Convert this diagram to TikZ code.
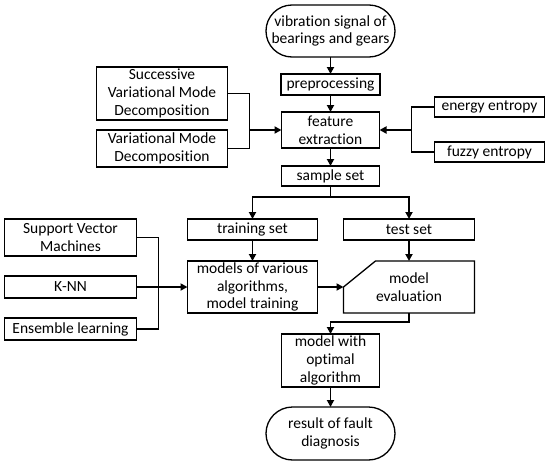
\documentclass[tikz,border=0pt]{standalone}
\usepackage{fontspec}
\setmainfont{Carlito}[Ligatures={NoCommon}]
\usetikzlibrary{positioning,calc,arrows.meta,shapes.misc}

\begin{document}
\begin{tikzpicture}[
    x=1pt, y=-1pt,
    box/.style={draw, line width=1.3pt, align=center, inner xsep=1pt, inner ysep=0pt, outer sep=0pt,
        font=\fontsize{15.5}{17.7}\selectfont},
    term/.style={box, rounded rectangle},
    arr/.style={-{Triangle[length=7pt,width=7pt]}, line width=1.8pt},
    ln/.style={line width=1.8pt}
]
    \useasboundingbox (0,0) rectangle (550,466);

    % Main column
    \node[term, minimum width=131pt, minimum height=52pt] (vibnode) at (330.5,31) {vibration signal of\\bearings and gears};
    \node[box, minimum width=99pt, minimum height=21pt, below=17pt of vibnode] (prenode) {preprocessing};
    \node[box, minimum width=98pt, minimum height=36pt, below=17pt of prenode] (featnode) {feature\\extraction};
    \node[box, minimum width=98pt, minimum height=20pt, below=18pt of featnode] (samplenode) {sample set};

    % Decomposition methods
    \node[box, minimum width=131pt, minimum height=53pt, left=54pt of featnode, yshift=36.5pt] (svmdnode) {Successive\\Variational Mode\\Decomposition};
    \node[box, minimum width=131pt, minimum height=37pt, left=54pt of featnode, yshift=-18.5pt] (vmdnode) {Variational Mode\\Decomposition};

    % Entropy features
    \node[box, minimum width=110pt, minimum height=20pt, right=55pt of featnode, yshift=23pt] (energynode) {energy entropy};
    \node[box, minimum width=110pt, minimum height=20pt, right=55pt of featnode, yshift=-22pt] (fuzzynode) {fuzzy entropy};

    % Training and testing
    \node[box, minimum width=130pt, minimum height=21pt, below=33pt of samplenode, xshift=-78pt] (trainnode) {training set};
    \node[box, minimum width=131pt, minimum height=21pt, below=33pt of samplenode, xshift=78.5pt] (testnode) {test set};
    \node[box, minimum width=130pt, minimum height=52pt, below=21pt of trainnode] (modelsnode) {models of various\\algorithms,\\model training};
    \node[box, draw=none, minimum width=131pt, minimum height=52pt, below=21pt of testnode] (evalnode) {model\\evaluation};
    \draw[line width=1.3pt] (evalnode.west) -- (evalnode.south west) -- (evalnode.south east)
        -- (evalnode.north east) -- ($(evalnode.north west)+(32pt,0pt)$) -- cycle;

    % Algorithms
    \node[box, minimum width=132pt, minimum height=22pt, left=51pt of modelsnode] (knnnode) {K-NN};
    \node[box, minimum width=132pt, minimum height=37pt, left=51pt of modelsnode, yshift=49.5pt] (svmnode) {Support Vector\\Machines};
    \node[box, minimum width=132pt, minimum height=22pt, left=51pt of modelsnode, yshift=-42pt] (ensnode) {Ensemble learning};

    % Result
    \node[box, minimum width=98pt, minimum height=53pt, below=21pt of evalnode, xshift=-78.5pt] (optnode) {model with\\optimal\\algorithm};
    \node[term, minimum width=131pt, minimum height=53pt, below=20pt of optnode] (resultnode) {result of fault\\diagnosis};

    % Junction points
    \coordinate (ljoin) at ($(featnode.west)+(-32pt,0pt)$);
    \coordinate (rjoin) at ($(featnode.east)+(32pt,0pt)$);
    \coordinate (mjoin) at ($(modelsnode.west)+(-29pt,0pt)$);
    \coordinate (split) at ($(samplenode.south)+(0pt,-11pt)$);

    % Connectors
    \draw[arr] (vibnode) -- (prenode);
    \draw[arr] (prenode) -- (featnode);
    \draw[arr] (featnode) -- (samplenode);

    \draw[ln] (svmdnode) -| (ljoin);
    \draw[ln] (vmdnode) -| (ljoin);
    \draw[arr] (ljoin) -- (featnode);

    \draw[ln] (energynode) -| (rjoin);
    \draw[ln] (fuzzynode) -| (rjoin);
    \draw[arr] (rjoin) -- (featnode);

    \draw[arr] (samplenode) -- (split) -| (trainnode);
    \draw[arr] (split) -| (testnode);
    \draw[arr] (trainnode) -- (modelsnode);
    \draw[arr] (testnode) -- (evalnode);

    \draw[ln] (svmnode) -| (mjoin);
    \draw[ln] (ensnode) -| (mjoin);
    \draw[arr] (knnnode) -- (modelsnode);
    \draw[arr] (modelsnode) -- (evalnode.west);

    \draw[arr] (evalnode.south) -- ++(0pt,-9pt) -| (optnode);
    \draw[arr] (optnode) -- (resultnode);
\end{tikzpicture}
\end{document}
